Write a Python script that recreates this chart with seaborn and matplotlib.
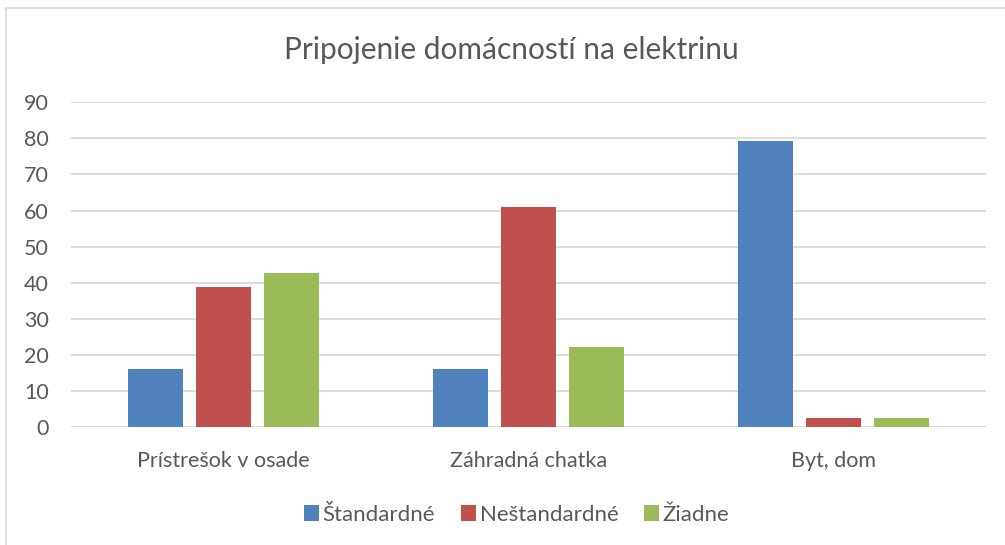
import matplotlib
matplotlib.use("Agg")
import matplotlib.pyplot as plt
import seaborn as sns
import pandas as pd
from matplotlib.patches import Rectangle

categories = ["Prístrešok v osade", "Záhradná chatka", "Byt, dom"]
series = ["Štandardné", "Neštandardné", "Žiadne"]
standard = [16.2, 16.1, 79.2]
nonstandard = [38.9, 61.0, 2.7]
none_ = [42.6, 22.2, 2.7]
yticks = [0, 10, 20, 30, 40, 50, 60, 70, 80, 90]

colors = ["#4F81BD", "#C0504D", "#9BBB59"]
text_color = "#595959"

rows = []
for s, vals in zip(series, [standard, nonstandard, none_]):
    for c, v in zip(categories, vals):
        rows.append({"cat": c, "series": s, "value": v})
df = pd.DataFrame(rows)

sns.set_theme(style="white")
plt.rcParams["font.family"] = ["Lato", "DejaVu Sans"]

fig = plt.figure(figsize=(10.05, 5.45), dpi=100)
ax = fig.add_axes([0.0706, 0.2156, 0.9105, 0.5972])

sns.barplot(data=df, x="cat", y="value", hue="series", order=categories,
            hue_order=series, palette=colors, width=0.669, gap=0.2,
            saturation=1, ax=ax, legend=True, edgecolor="none")

ax.set_ylim(0, 90)
ax.set_xlim(-0.5, 2.5)
ax.set_yticks(yticks)
ax.set_yticklabels([str(t) for t in yticks])
ax.yaxis.grid(True, color="#D9D9D9", linewidth=1.3)
ax.set_axisbelow(True)
for sp in ax.spines.values():
    sp.set_visible(False)
ax.set_xlabel("")
ax.set_ylabel("")
ax.tick_params(axis="y", length=0, pad=16, labelsize=15.5, labelcolor=text_color)
ax.tick_params(axis="x", length=0, pad=17, labelsize=15.5, labelcolor=text_color)

fig.text(0.509, 0.908, "Pripojenie domácností na elektrinu", ha="center",
         va="center", fontsize=21.5, color=text_color)

leg = ax.legend(loc="center", ncol=3, frameon=False, fontsize=16, handlelength=0.7,
                handleheight=0.7, handletextpad=0.15, columnspacing=1.15,
                labelcolor=text_color)
leg.set_bbox_to_anchor((0.514, 0.055), transform=fig.transFigure)

fig.patches.append(Rectangle((0.006, -0.01), 0.999, 0.995, transform=fig.transFigure,
                             fill=False, edgecolor="#D9D9D9", linewidth=1.2))

fig.savefig("out.png", dpi=100)
